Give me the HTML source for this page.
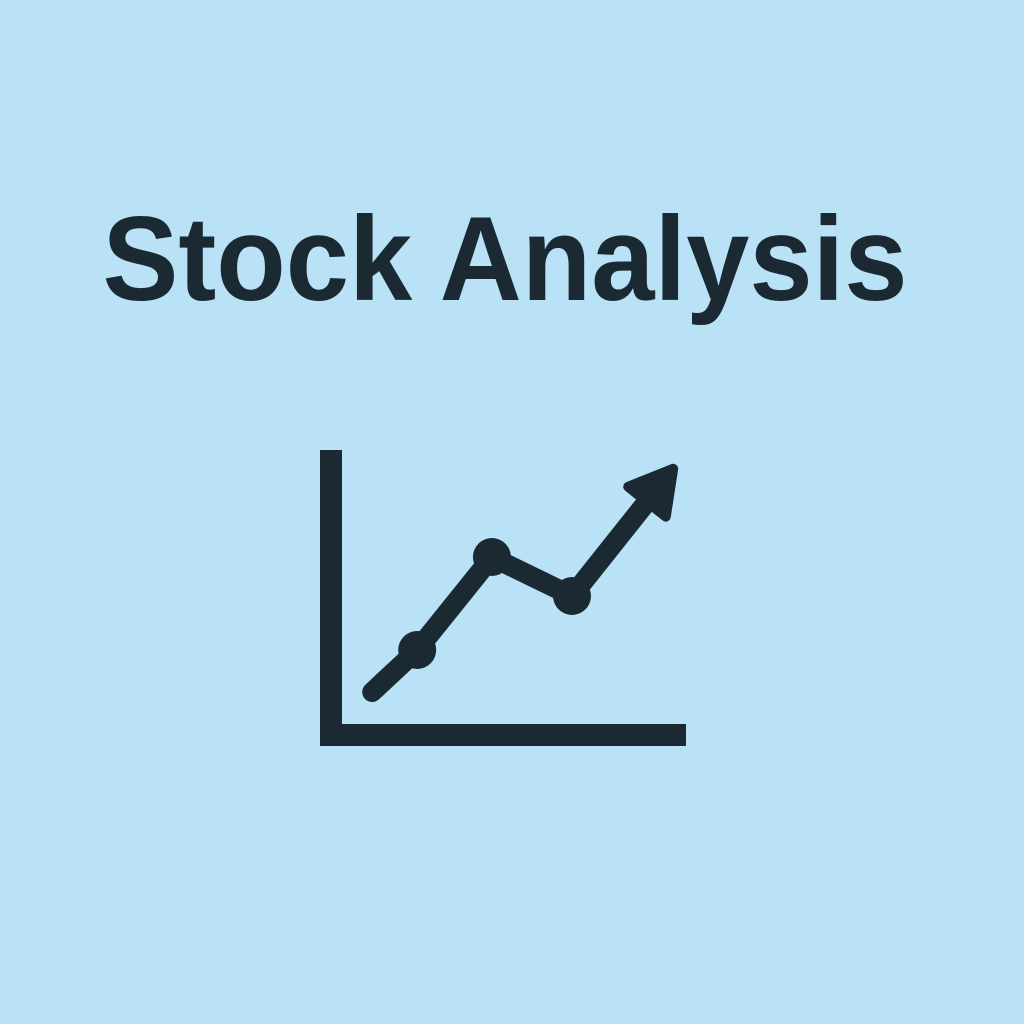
<!DOCTYPE html>
<html>
<head>
<meta charset="utf-8">
<style>
  html,body{margin:0;padding:0;width:1024px;height:1024px;overflow:hidden;background:#b9e2f6;}
  svg{display:block;}
</style>
</head>
<body>
<svg id="chart" width="1024" height="1024" viewBox="0 0 1024 1024">
  <rect x="0" y="0" width="1024" height="1024" fill="#b9e2f6"/>
  <text x="505" y="300" text-anchor="middle" font-family="Liberation Sans, sans-serif" font-weight="bold" font-size="120" fill="#1b2a32" textLength="805" lengthAdjust="spacingAndGlyphs">Stock Analysis</text>
  <rect x="320" y="450" width="22" height="296" fill="#1b2a32"/>
  <rect x="320" y="724" width="366" height="22" fill="#1b2a32"/>
  <g id="marks"></g>
</svg>
<script>
const xValues = [1.16, 2.16, 3.82, 5.6, 7.35];
const yValues = [1.8, 3.2, 6.3, 5.0, 8.3];
const markerIdx = [1, 2, 3];

function xScale(v){ return 320 + v * 45; }
function yScale(v){ return 746 - v * 30; }

const ns = 'http://www.w3.org/2000/svg';
const g = document.getElementById('marks');
const col = '#1b2a32';
const pts = xValues.map((x,i)=>[xScale(x), yScale(yValues[i])]);

const line = document.createElementNS(ns,'polyline');


line.setAttribute('points', pts.map(p=>p.join(',')).join(' '));
line.setAttribute('fill','none');
line.setAttribute('stroke',col);
line.setAttribute('stroke-width','20');
line.setAttribute('stroke-linecap','round');
line.setAttribute('stroke-linejoin','round');
g.appendChild(line);

markerIdx.forEach(i=>{
  const c = document.createElementNS(ns,'circle');
  
  
  c.setAttribute('cx', pts[i][0]);
  c.setAttribute('cy', pts[i][1]);
  c.setAttribute('r', 19);
  c.setAttribute('fill', col);
  g.appendChild(c);
});

const a = pts[pts.length-2], b = pts[pts.length-1];
let dx = b[0]-a[0], dy = b[1]-a[1];
const len = Math.hypot(dx,dy); dx/=len; dy/=len;
const tip = [b[0]+dx*36, b[1]+dy*36];
const base = [b[0]-dx*6, b[1]-dy*6];
const nx = -dy, ny = dx;
const p1 = [base[0]+nx*24, base[1]+ny*24];
const p2 = [base[0]-nx*24, base[1]-ny*24];
const head = document.createElementNS(ns,'polygon');


head.setAttribute('points', [tip,p1,p2].map(p=>p.join(',')).join(' '));
head.setAttribute('fill', col);
head.setAttribute('stroke', col);
head.setAttribute('stroke-width', '10');
head.setAttribute('stroke-linejoin', 'round');
g.appendChild(head);
</script>
</body>
</html>
